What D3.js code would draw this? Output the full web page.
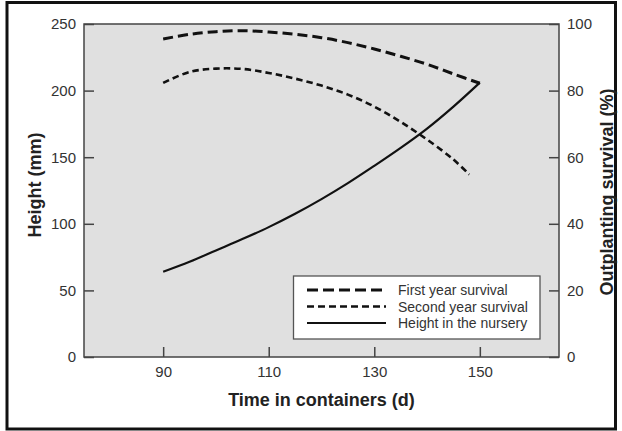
<!DOCTYPE html>
<html>
<head>
<meta charset="utf-8">
<script src="https://cdn.jsdelivr.net/npm/d3@7"></script>
<style>
  html, body { margin: 0; padding: 0; background: #fff; }
  svg { display: block; font-family: "Liberation Sans", Arial, Helvetica, sans-serif; }
</style>
</head>
<body>
<script>
// days in containers
const days = [90, 95, 100, 105, 110, 115, 120, 125, 130, 135, 140, 145, 150];
// outplanting survival (%)
const firstYear = [95.5, 96.9, 97.7, 98.0, 97.6, 96.9, 95.9, 94.4, 92.5, 90.3, 87.9, 85.0, 82.2];
const secondDays = [90, 95, 100, 105, 110, 115, 120, 125, 130, 135, 140, 145, 148];
const secondYear = [82.3, 85.6, 86.6, 86.5, 85.3, 83.6, 81.5, 78.8, 75.2, 70.6, 65.3, 59.3, 54.8];
// height in the nursery (mm)
const heightMm = [64, 71.5, 80, 88.5, 97.5, 107.5, 118.5, 130.5, 143.5, 157, 171.5, 188, 206];

const xTicks = [90, 110, 130, 150];
const leftTicks = [0, 50, 100, 150, 200, 250];
const rightTicks = [0, 20, 40, 60, 80, 100];
const legendLabels = ['First year survival', 'Second year survival', 'Height in the nursery'];

const W = 622;
const H = 431;
const plot = { left: 84, right: 559, top: 24, bottom: 357 };

const svg = d3.select('body').append('svg')
  .attr('width', W)
  .attr('height', H);

// outer border
svg.append('rect')
  .attr('x', 7).attr('y', 2.5)
  .attr('width', 608.5).attr('height', 426.5)
  .attr('fill', 'none')
  .attr('stroke', '#111')
  .attr('stroke-width', 3);

const x = d3.scaleLinear().domain([75, 165]).range([plot.left, plot.right]);
const yL = d3.scaleLinear().domain([0, 250]).range([plot.bottom, plot.top]);
const yR = d3.scaleLinear().domain([0, 100]).range([plot.bottom, plot.top]);

// plot background
svg.append('rect')
  .attr('x', plot.left).attr('y', plot.top)
  .attr('width', plot.right - plot.left)
  .attr('height', plot.bottom - plot.top)
  .attr('fill', '#e0e0e0');

function styleAxis(g) {
  g.select('.domain').remove();
  g.selectAll('line').attr('stroke', '#444').attr('stroke-width', 1.5);
  g.selectAll('text')
    .attr('fill', '#333')
    .attr('font-size', 15)
    .attr('font-family', '"Liberation Sans", Arial, sans-serif');
}

svg.append('g')
  .attr('transform', `translate(0, ${plot.bottom})`)
  .call(d3.axisBottom(x).tickValues(xTicks).tickSize(-10).tickPadding(9).tickFormat(d3.format('d')))
  .call(styleAxis);

svg.append('g')
  .attr('transform', `translate(${plot.left}, 0)`)
  .call(d3.axisLeft(yL).tickValues(leftTicks).tickSize(-10).tickPadding(8).tickFormat(d3.format('d')))
  .call(styleAxis);

svg.append('g')
  .attr('transform', `translate(${plot.right}, 0)`)
  .call(d3.axisRight(yR).tickValues(rightTicks).tickSize(-10).tickPadding(8).tickFormat(d3.format('d')))
  .call(styleAxis);

// plot frame
svg.append('rect')
  .attr('x', plot.left).attr('y', plot.top)
  .attr('width', plot.right - plot.left)
  .attr('height', plot.bottom - plot.top)
  .attr('fill', 'none')
  .attr('stroke', '#444')
  .attr('stroke-width', 1.5);

const curve = d3.curveCatmullRom;

const series = [
  { xs: days, ys: firstYear, y: yR, dash: '10,5', width: 3 },
  { xs: secondDays, ys: secondYear, y: yR, dash: '6.5,4', width: 2.6 },
  { xs: days, ys: heightMm, y: yL, dash: null, width: 2.2 },
];

series.forEach((s) => {
  const pts = s.xs.map((d, i) => [d, s.ys[i]]);
  const line = d3.line()
    .x(d => x(d[0]))
    .y(d => s.y(d[1]))
    .curve(curve);
  svg.append('path')
    .datum(pts)
    .attr('d', line)
    .attr('fill', 'none')
    .attr('stroke', '#111')
    .attr('stroke-width', s.width)
    .attr('stroke-dasharray', s.dash);
});

// legend
const legend = svg.append('g');
legend.append('rect')
  .attr('x', 293.5).attr('y', 276)
  .attr('width', 246.5).attr('height', 63)
  .attr('fill', '#fff')
  .attr('stroke', '#555')
  .attr('stroke-width', 1.3);

const legendDash = ['11,5', '7,4', null];
const legendWidth = [3, 2.6, 2.2];
legendLabels.forEach((label, i) => {
  const cy = 290 + i * 16.5;
  legend.append('line')
    .attr('x1', 307).attr('x2', 386)
    .attr('y1', cy).attr('y2', cy)
    .attr('stroke', '#111')
    .attr('stroke-width', legendWidth[i])
    .attr('stroke-dasharray', legendDash[i]);
  legend.append('text')
    .attr('x', 398).attr('y', cy)
    .attr('dy', '0.36em')
    .attr('font-size', 14)
    .attr('fill', '#333')
    .text(label);
});

// axis titles
svg.append('text')
  .attr('x', (plot.left + plot.right) / 2)
  .attr('y', 406)
  .attr('text-anchor', 'middle')
  .attr('font-size', 18)
  .attr('font-weight', 'bold')
  .attr('fill', '#222')
  .text('Time in containers (d)');

svg.append('text')
  .attr('transform', 'translate(41, 185) rotate(-90)')
  .attr('text-anchor', 'middle')
  .attr('font-size', 18)
  .attr('font-weight', 'bold')
  .attr('fill', '#222')
  .text('Height (mm)');

svg.append('text')
  .attr('transform', 'translate(613, 192) rotate(-90)')
  .attr('text-anchor', 'middle')
  .attr('font-size', 18)
  .attr('font-weight', 'bold')
  .attr('fill', '#222')
  .text('Outplanting survival (%)');
</script>
</body>
</html>
